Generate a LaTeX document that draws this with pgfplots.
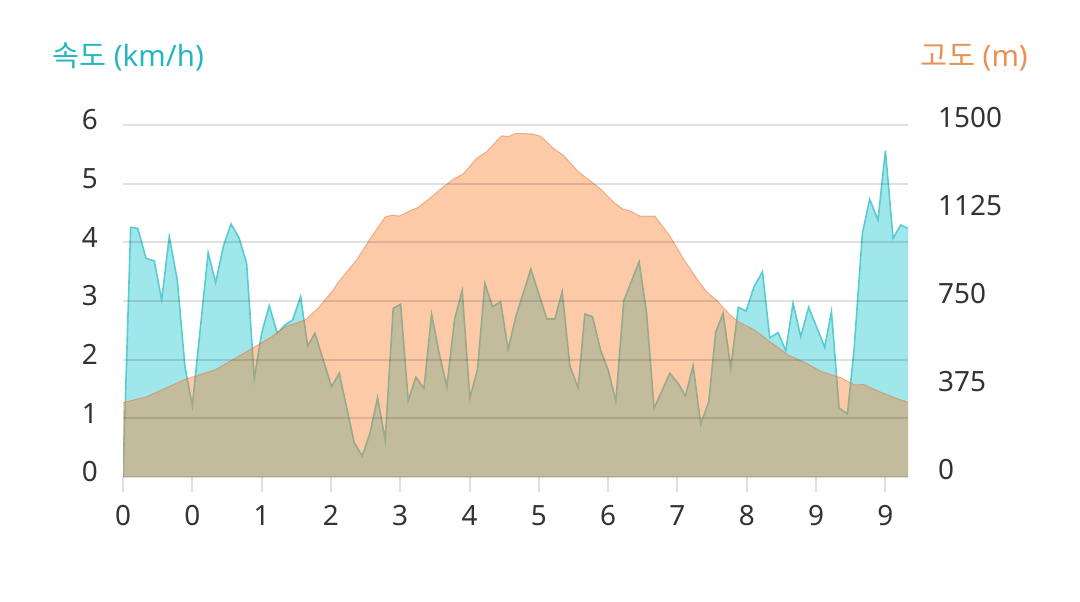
\documentclass[border=0pt]{standalone}
\usepackage{fontspec}
\setmainfont{Noto Sans}
\newfontfamily\kr{Noto Sans CJK KR}
\usepackage{pgfplots}
\pgfplotsset{compat=1.18}
\usepackage{pgfplotstable}

\definecolor{spdfill}{RGB}{160,231,235}
\definecolor{altfill}{RGB}{250,119,32}
\definecolor{spdline}{RGB}{88,204,210}
\definecolor{altline}{RGB}{225,120,60}
\definecolor{spdtitle}{RGB}{38,182,192}
\definecolor{alttitle}{RGB}{232,145,80}
\definecolor{ticktext}{RGB}{51,51,51}

% speed (km/h) against distance position
\pgfplotstableread{
x v
0 0
0.111 4.256
0.212 4.239
0.332 3.728
0.451 3.682
0.558 3.017
0.668 4.096
0.783 3.358
0.894 1.880
1.000 1.215
1.229 3.823
1.337 3.312
1.447 3.925
1.558 4.312
1.673 4.079
1.784 3.642
1.894 1.682
2.000 2.449
2.110 2.920
2.226 2.449
2.337 2.591
2.448 2.676
2.563 3.073
2.664 2.233
2.769 2.449
3.010 1.539
3.120 1.767
3.337 0.585
3.452 0.358
3.563 0.745
3.674 1.352
3.783 0.631
3.899 2.875
4.006 2.944
4.115 1.300
4.226 1.699
4.342 1.512
4.453 2.773
4.562 2.108
4.673 1.539
4.784 2.688
4.894 3.175
5.005 1.352
5.116 1.836
5.221 3.301
5.332 2.903
5.448 2.988
5.557 2.177
5.668 2.732
5.885 3.545
6.116 2.693
6.231 2.693
6.337 3.158
6.448 1.892
6.567 1.522
6.664 2.778
6.775 2.732
6.890 2.165
7.000 1.824
7.111 1.295
7.226 3.005
7.447 3.670
7.554 2.800
7.663 1.171
7.890 1.767
8.010 1.597
8.116 1.381
8.226 1.897
8.337 0.898
8.452 1.283
8.553 2.477
8.659 2.790
8.770 1.853
8.878 2.892
8.990 2.829
9.106 3.244
9.227 3.499
9.332 2.374
9.452 2.460
9.563 2.153
9.668 2.961
9.779 2.391
9.894 2.892
10.010 2.550
10.125 2.211
10.222 2.817
10.332 1.181
10.453 1.074
10.548 2.165
10.669 4.154
10.774 4.733
10.894 4.380
11.001 5.562
11.111 4.069
11.222 4.295
11.327 4.239
}\speed

% altitude (m)
\pgfplotstableread{
x alt
0 317
0.342 342
0.894 416
1.327 456
1.807 538
2.145 598
2.337 640
2.625 669
2.817 719
3.033 797
3.105 830
3.371 925
3.563 1013
3.779 1107
3.876 1116
3.995 1112
4.115 1131
4.259 1149
4.428 1188
4.597 1230
4.764 1269
4.908 1291
5.102 1358
5.246 1386
5.462 1454
5.557 1450
5.679 1465
5.895 1462
6.015 1453
6.062 1443
6.206 1401
6.351 1372
6.567 1301
6.760 1258
6.905 1223
7.072 1173
7.216 1141
7.313 1135
7.457 1112
7.673 1112
7.890 1027
8.082 932
8.275 847
8.419 790
8.563 754
8.755 692
8.875 662
9.116 626
9.332 577
9.596 520
9.861 485
10.077 449
10.342 425
10.558 392
10.678 395
10.919 363
11.160 335
11.327 318
}\altitude

\begin{document}
\begin{tikzpicture}[x=1bp,y=1bp]
\useasboundingbox (0,0) rectangle (1080,602);
\begin{axis}[
  at={(123bp,125bp)}, anchor=south west,
  scale only axis, width=785bp, height=352bp,
  xmin=0, xmax=11.327, ymin=0, ymax=6,
  axis x line*=bottom, axis y line*=left,
  axis line style={draw=none},
  axis on top,
  xtick={0,1,2,3,4,5,6,7,8,9,10,11},
  xticklabels={0,0,1,2,3,4,5,6,7,8,9,9},
  ytick={0,1,2,3,4,5,6},
  ymajorgrids,
  major grid style={black, opacity=0.12, line width=2bp},
  tick align=outside,
  major tick length=15bp,
  xtick style={draw=black, draw opacity=0.12, line width=2bp},
  ytick style={draw=none},
  /pgf/number format/assume math mode=true,
  ticklabel style={font=\fontsize{28}{30}\selectfont, text=ticktext, inner sep=0pt},
  yticklabel style={anchor=east, xshift=-10bp, yshift=5bp},
  xticklabel style={anchor=north, yshift=-13bp},
]
\addplot[fill=spdfill, draw=none] table[x=x, y=v]{\speed} \closedcycle;
\addplot[spdline, line width=1.6bp] table[x=x, y=v]{\speed};
\addplot[fill=altfill, fill opacity=0.39, draw=none] table[x=x, y expr=\thisrow{alt}/250]{\altitude} \closedcycle;
\addplot[altline, line width=1bp, opacity=0.5] table[x=x, y expr=\thisrow{alt}/250]{\altitude};
\end{axis}
\begin{axis}[
  at={(123bp,125bp)}, anchor=south west,
  scale only axis, width=785bp, height=352bp,
  xmin=0, xmax=11.327, ymin=0, ymax=1500,
  hide x axis,
  axis y line*=right,
  axis line style={draw=none},
  ytick={0,375,750,1125,1500},
  ytick style={draw=none},
  /pgf/number format/assume math mode=true,
  /pgf/number format/1000 sep={},
  ticklabel style={font=\fontsize{28}{30}\selectfont, text=ticktext, inner sep=0pt},
  yticklabel style={anchor=west, xshift=30bp, yshift=7bp},
]
\addplot[draw=none] coordinates {(0,0) (11,1500)};
\end{axis}
\node[anchor=base west, inner sep=0pt, text=spdtitle, font=\fontsize{29.5}{31}\selectfont] at (52,535) {{\kr 속도} (km/h)};
\node[anchor=base east, inner sep=0pt, text=alttitle, font=\fontsize{29.5}{31}\selectfont] at (1028,535) {{\kr 고도} (m)};
\end{tikzpicture}
\end{document}
